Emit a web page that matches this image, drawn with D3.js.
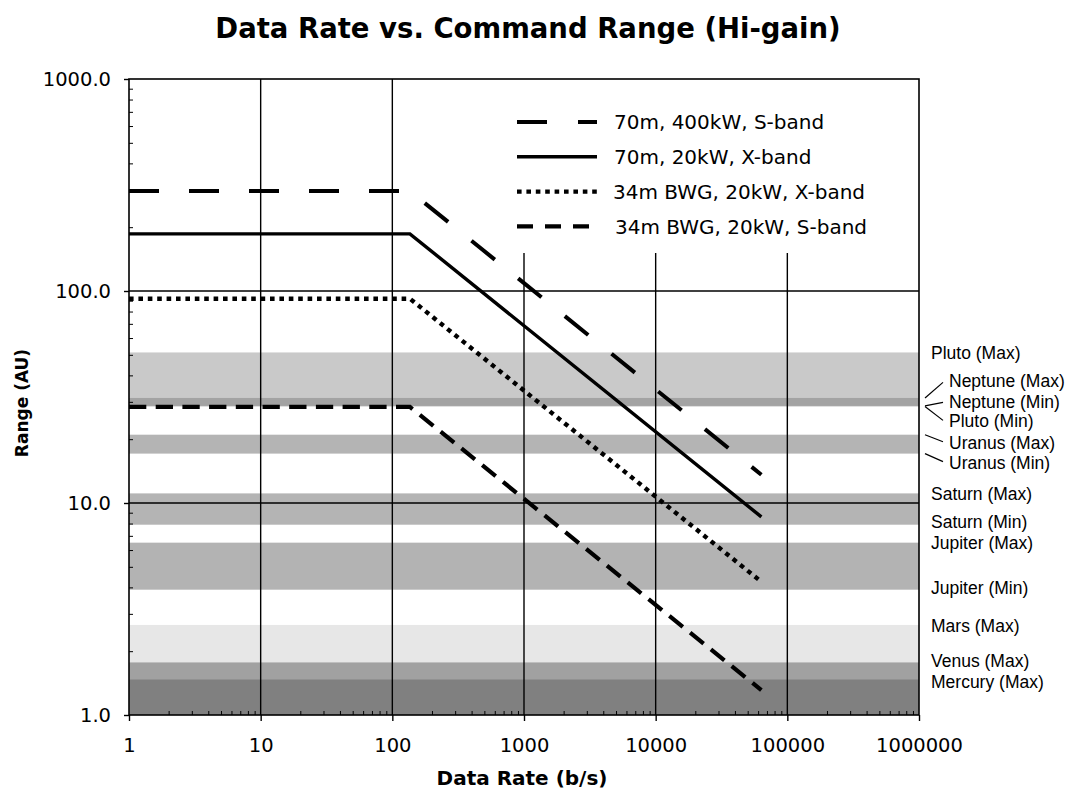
<!DOCTYPE html>
<html lang="en">
<head>
<meta charset="utf-8">
<title>Data Rate vs. Command Range (Hi-gain)</title>
<script src="https://d3js.org/d3.v7.min.js"></script>
<style>
  body { margin: 0; background: #fff; }
  svg { display: block; }
  .tick text { font-family: "DejaVu Sans", Verdana, sans-serif; fill: #000; }
</style>
</head>
<body>
<div class="chart"></div>
<script>
// ---- data ----
const seriesNames = ["70m, 400kW, S-band", "70m, 20kW, X-band", "34m BWG, 20kW, X-band", "34m BWG, 20kW, S-band"];
const dataRates = [1, 136, 63500];                 // b/s
const range70S400 = [296, 296, 13.6];              // AU
const range70X20 = [186, 186, 8.6];
const range34X20 = [92, 92, 4.25];
const range34S20 = [28.4, 28.4, 1.31];

const planetNames = ["Pluto", "Neptune", "Uranus", "Saturn", "Jupiter", "Mars", "Venus", "Mercury"];
const planetMin = [28.5, 28.7, 17.1, 7.9, 3.9, 0.37, 0.26, 0.53];   // AU from Earth
const planetMax = [51.3, 31.3, 21.0, 11.1, 6.5, 2.66, 1.77, 1.47];

const markerLabels = ["Pluto (Max)", "Neptune (Max)", "Neptune (Min)", "Pluto (Min)", "Uranus (Max)", "Uranus (Min)",
  "Saturn (Max)", "Saturn (Min)", "Jupiter (Max)", "Jupiter (Min)", "Mars (Max)", "Venus (Max)", "Mercury (Max)"];
const markerValues = [51.3, 31.3, 28.7, 28.5, 21.0, 17.1, 11.1, 7.9, 6.5, 3.9, 2.66, 1.77, 1.47];

const xTicks = [1, 10, 100, 1000, 10000, 100000, 1000000];
const yTicks = [1, 10, 100, 1000];

// ---- layout / style ----
const W = 1080, H = 792;
const plot = {left: 129, right: 919, top: 79, bottom: 715};
const bandFill = ["#c9c9c9", "#a3a3a3", "#b4b4b4", "#b4b4b4", "#b3b3b3", "#e7e7e7", "#a1a1a1", "#808080"];
const seriesDash = ["30,30", null, "4.6,4.8", "17.3,9.4"];
const legendDash = ["30,31", null, "4.6,4.8", "16,12"];
const seriesWidth = [4, 3.4, 4.4, 4.2];
const labelNudge = [0, -16.6, -4.5, 14.8, 8, 9, 0, -3, 0, -2, 1, -1.5, 2];

const svg = d3.select(".chart").append("svg")
  .attr("width", W).attr("height", H);
svg.append("rect").attr("width", W).attr("height", H).attr("fill", "#fff");

const x = d3.scaleLog().domain([1, 1e6]).range([plot.left, plot.right]);
const y = d3.scaleLog().domain([1, 1000]).range([plot.bottom, plot.top]).clamp(true);

// planet bands
svg.append("g").selectAll("rect")
  .data(planetNames)
  .join("rect")
  .attr("x", plot.left)
  .attr("width", plot.right - plot.left)
  .attr("y", (d, i) => y(planetMax[i]))
  .attr("height", (d, i) => y(planetMin[i]) - y(planetMax[i]))
  .attr("fill", (d, i) => bandFill[i]);

// grid
svg.append("g").selectAll("line")
  .data(xTicks.slice(1, -1))
  .join("line")
  .attr("x1", d => x(d)).attr("x2", d => x(d))
  .attr("y1", plot.top).attr("y2", plot.bottom)
  .attr("stroke", "#000").attr("stroke-width", 1.4);
svg.append("g").selectAll("line")
  .data(yTicks.slice(1, -1))
  .join("line")
  .attr("y1", d => y(d)).attr("y2", d => y(d))
  .attr("x1", plot.left).attr("x2", plot.right)
  .attr("stroke", "#000").attr("stroke-width", 1.4);

// legend background hides the grid behind it
svg.append("rect")
  .attr("x", 500).attr("y", plot.top).attr("width", 405).attr("height", 174)
  .attr("fill", "#fff");

// series
const allRanges = [range70S400, range70X20, range34X20, range34S20];
const line = d3.line().x(d => x(d[0])).y(d => y(d[1]));
svg.append("g").selectAll("path")
  .data(allRanges)
  .join("path")
  .attr("d", r => line(dataRates.map((v, j) => [v, r[j]])))
  .attr("fill", "none")
  .attr("stroke", "#000")
  .attr("stroke-width", (d, i) => seriesWidth[i])
  .attr("stroke-dasharray", (d, i) => seriesDash[i]);

// axes
const minor = [];
for (let e = 0; e < 6; e++) for (let k = 2; k < 10; k++) minor.push(k * Math.pow(10, e));
const minorY = minor.filter(v => v < 1000);

svg.append("g")
  .attr("transform", `translate(${plot.left},0)`)
  .call(d3.axisLeft(y).tickValues(yTicks).tickFormat(d3.format(".1f")).tickSize(5).tickPadding(13))
  .call(g => g.select(".domain").remove())
  .call(g => g.selectAll("line").attr("stroke-width", 1.4))
  .call(g => g.selectAll("text").attr("font-size", 19.5));
svg.append("g")
  .attr("transform", `translate(${plot.left},0)`)
  .call(d3.axisRight(y).tickValues(minorY).tickFormat("").tickSize(4))
  .call(g => g.select(".domain").remove())
  .call(g => g.selectAll("line").attr("stroke-width", 1));

svg.append("g")
  .attr("transform", `translate(0,${plot.bottom})`)
  .call(d3.axisBottom(x).tickValues(xTicks).tickFormat(d3.format("d")).tickSize(6).tickPadding(17))
  .call(g => g.select(".domain").remove())
  .call(g => g.selectAll("line").attr("stroke-width", 1.4))
  .call(g => g.selectAll("text").attr("font-size", 19.5));
svg.append("g")
  .attr("transform", `translate(0,${plot.bottom})`)
  .call(d3.axisTop(x).tickValues(minor).tickFormat("").tickSize(4))
  .call(g => g.select(".domain").remove())
  .call(g => g.selectAll("line").attr("stroke-width", 1));

// plot border
svg.append("rect")
  .attr("x", plot.left).attr("y", plot.top)
  .attr("width", plot.right - plot.left).attr("height", plot.bottom - plot.top)
  .attr("fill", "none").attr("stroke", "#000").attr("stroke-width", 1.6);

// legend
const lg = svg.append("g").selectAll("g")
  .data(seriesNames)
  .join("g")
  .attr("transform", (d, i) => `translate(517,${122 + i * 34.8})`);
lg.append("line")
  .attr("x1", 0).attr("x2", 80)
  .attr("stroke", "#000")
  .attr("stroke-width", (d, i) => seriesWidth[i])
  .attr("stroke-dasharray", (d, i) => legendDash[i]);
lg.append("text")
  .attr("x", (d, i) => i < 2 ? 97 : i === 2 ? 96 : 98)
  .attr("dy", "0.36em")
  .attr("font-family", "DejaVu Sans, Verdana, sans-serif")
  .attr("font-size", 20)
  .text(d => d);

// planet labels
const lb = svg.append("g").selectAll("g")
  .data(markerLabels)
  .join("g");
lb.append("text")
  .attr("x", (d, i) => Math.abs(labelNudge[i]) > 4 ? 949 : 931)
  .attr("y", (d, i) => y(markerValues[i]) + labelNudge[i])
  .attr("dy", "0.35em")
  .attr("font-family", "Liberation Sans, Arial, sans-serif")
  .attr("font-size", 17.5)
  .text(d => d);
lb.filter((d, i) => Math.abs(labelNudge[i]) > 4)
  .append("line")
  .attr("x1", 925)
  .attr("y1", d => y(markerValues[markerLabels.indexOf(d)]))
  .attr("x2", 943)
  .attr("y2", d => { const i = markerLabels.indexOf(d); return y(markerValues[i]) + labelNudge[i] - Math.sign(labelNudge[i]); })
  .attr("stroke", "#000").attr("stroke-width", 1.2);

// titles
svg.append("text")
  .attr("x", 528).attr("y", 38)
  .attr("text-anchor", "middle")
  .attr("font-family", "DejaVu Sans, Verdana, sans-serif")
  .attr("font-weight", "bold")
  .attr("font-size", 27.5)
  .text("Data Rate vs. Command Range (Hi-gain)");

svg.append("text")
  .attr("x", 522).attr("y", 785)
  .attr("text-anchor", "middle")
  .attr("font-family", "DejaVu Sans, Verdana, sans-serif")
  .attr("font-weight", "bold")
  .attr("font-size", 20)
  .text("Data Rate (b/s)");

svg.append("text")
  .attr("transform", "translate(28,403) rotate(-90)")
  .attr("text-anchor", "middle")
  .attr("font-family", "DejaVu Sans, Verdana, sans-serif")
  .attr("font-weight", "bold")
  .attr("font-size", 17)
  .text("Range (AU)");
</script>
</body>
</html>
